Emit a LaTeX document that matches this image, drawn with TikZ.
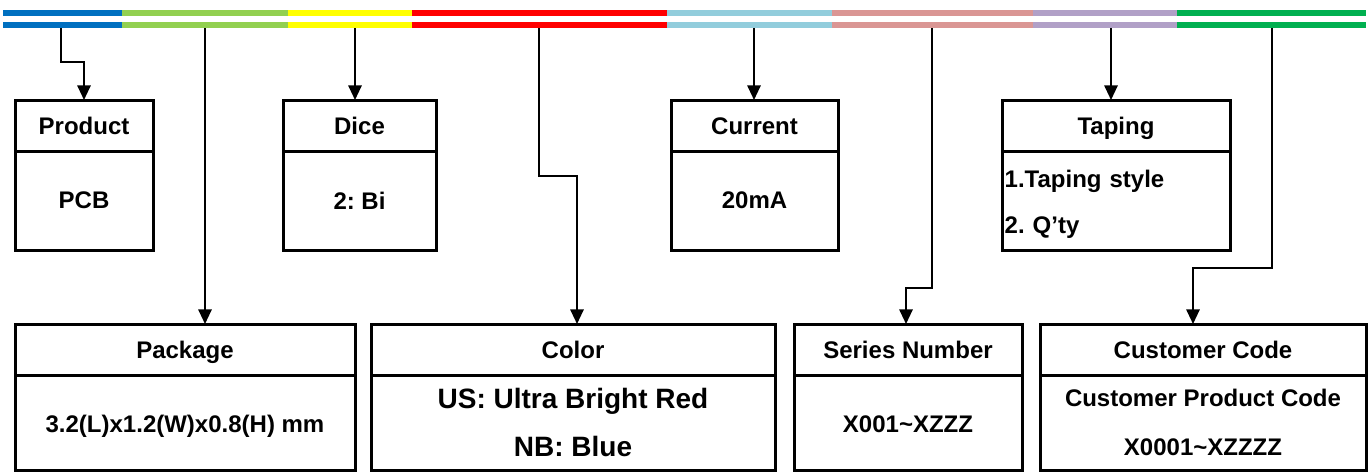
\documentclass[tikz,border=0pt]{standalone}
\usepackage{fontspec}
\setmainfont{Liberation Sans}
\usepackage{xcolor}
\usepackage{tikz}
\usetikzlibrary{positioning,arrows.meta}
\definecolor{segblue}{HTML}{0070C0}
\definecolor{seglime}{HTML}{92D050}
\definecolor{segyellow}{HTML}{FFFF00}
\definecolor{segred}{HTML}{FF0000}
\definecolor{segsky}{HTML}{92CDDC}
\definecolor{segrose}{HTML}{DA9694}
\definecolor{seglilac}{HTML}{B1A0C7}
\definecolor{seggreen}{HTML}{00B050}
\frenchspacing

\begin{document}
\begin{tikzpicture}[x=0.75pt, y=-0.75pt, node distance=0pt,
  every node/.style={draw, line width=2.25pt, inner sep=2pt, outer sep=0pt, align=center, font=\bfseries\fontsize{18}{22}\selectfont},
  head/.style={minimum height=38.25pt, text height=13pt, text depth=0pt},
  val/.style={minimum height=74.25pt},
  lowval/.style={minimum height=71.25pt},
  oneline/.style={text height=15pt, text depth=0pt},
  conn/.style={line width=1.5pt, -{Triangle[length=11pt, width=10pt]}}]
\useasboundingbox (0,0) rectangle (1369,472);

% code bar
\foreach \a/\b/\c in {3/122/segblue, 122/288/seglime, 288/412/segyellow, 412/667/segred, 667/832/segsky, 832/1033/segrose, 1033/1177/seglilac, 1177/1366/seggreen} {
  \draw[\c, line width=4.5pt] (\a,13) -- (\b,13);
  \draw[\c, line width=4.5pt] (\a,25) -- (\b,25);
}
\coordinate (tprod) at (61,28);
\coordinate (tpack) at (205,28);
\coordinate (tdice) at (355,28);
\coordinate (tcolor) at (539,28);
\coordinate (tcurr) at (754,28);
\coordinate (tseries) at (932,28);
\coordinate (ttaping) at (1111,28);
\coordinate (tcust) at (1272,28);

% upper boxes
\node[head, minimum width=103.5pt] (product) at (84,125.5) {Product};
\node[val, minimum width=103.5pt, below=of product] (productval) {PCB};
\node[head, minimum width=114.75pt] (dice) at (359.5,125.5) {Dice};
\node[val, minimum width=114.75pt, below=of dice] (diceval) {2: Bi};
\node[head, minimum width=125.25pt] (current) at (754.5,125.5) {Current};
\node[val, minimum width=125.25pt, below=of current] (currentval) {20mA};
\node[head, minimum width=171pt] (taping) at (1116,125.5) {Taping};
\node[val, text width=167pt, align=left, below=of taping] (tapingval) {\rule{0pt}{19pt}1.Taping style\\[12.5pt]2. Q’ty};

% lower boxes
\node[head, minimum width=255pt] (package) at (185,349.5) {Package};
\node[lowval, oneline, minimum width=255pt, below=of package] (packageval) {3.2(L)x1.2(W)x0.8(H) mm};
\node[head, minimum width=303pt] (color) at (573,349.5) {Color};
\node[lowval, minimum width=303pt, below=of color, font=\bfseries\fontsize{21}{25}\selectfont] (colorval) {US: Ultra Bright Red\\[11.5pt]NB: Blue};
\node[head, minimum width=171pt] (series) at (908,349.5) {Series Number};
\node[lowval, oneline, minimum width=171pt, below=of series] (seriesval) {X001\textasciitilde XZZZ};
\node[head, minimum width=244.5pt] (customer) at (1203,349.5) {Customer Code};
\node[lowval, minimum width=244.5pt, below=of customer] (customerval) {Customer Product Code\\[14.5pt]X0001\textasciitilde XZZZZ};

% arrows
\draw[conn] (tprod) -- ++(0,34) -| (product.north);
\draw[conn] (tpack) -- (tpack |- package.north);
\draw[conn] (tdice) -- (tdice |- dice.north);
\draw[conn] (tcolor) -- ++(0,148) -| ([xshift=3pt]color.north);
\draw[conn] (tcurr) -- (tcurr |- current.north);
\draw[conn] (tseries) -- ++(0,260) -| ([xshift=-1.5pt]series.north);
\draw[conn] (ttaping) -- (ttaping |- taping.north);
\draw[conn] (tcust) -- ++(0,240) -| ([xshift=-7.5pt]customer.north);
\end{tikzpicture}
\end{document}
